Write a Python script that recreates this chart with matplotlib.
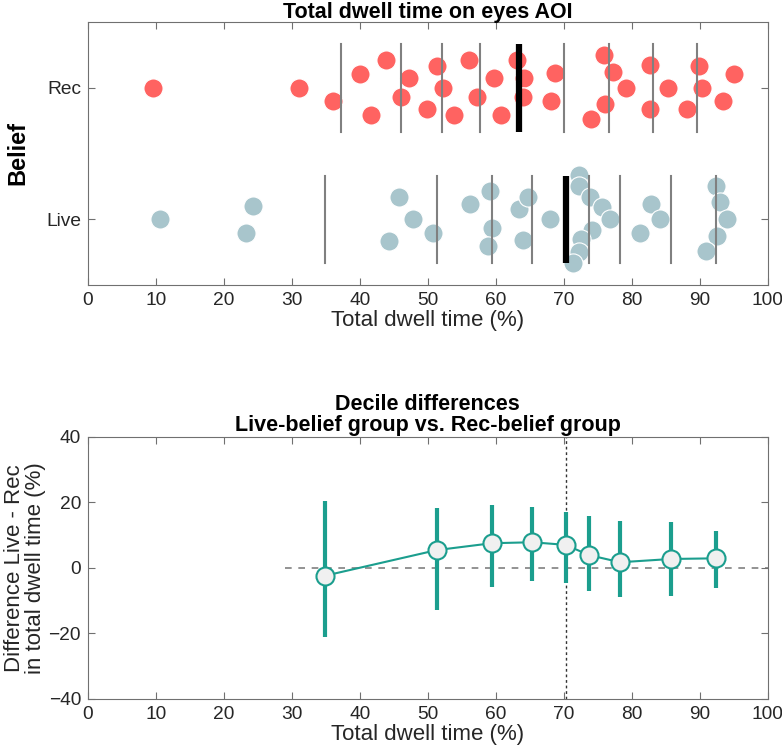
import matplotlib.pyplot as plt

plt.rcParams['font.family'] = ['Liberation Sans', 'DejaVu Sans']

# 数据：每个被试的总注视时间 (%) 与散点的纵向偏移
rec_x = [9.6, 31.1, 36.0, 40.0, 41.6, 43.8, 46.0, 47.3, 49.9, 51.3, 52.2, 53.9,
         56.1, 57.2, 59.7, 60.8, 63.1, 64.1, 64.0, 68.7, 68.1, 74.0, 75.9, 76.1,
         77.3, 79.2, 82.7, 82.7, 85.4, 88.2, 89.9, 90.3, 93.5, 95.1]
rec_off = [0.0, 0.0, -0.104, 0.106, -0.21, 0.212, -0.071, 0.073, -0.164, 0.164, 0.0, -0.21,
           0.212, -0.071, 0.073, -0.21, 0.212, 0.073, -0.071, 0.11, -0.104, -0.24, 0.25, -0.127,
           0.123, 0.0, 0.169, -0.164, 0.0, -0.164, 0.164, 0.0, -0.10, 0.106]

live_x = [10.6, 24.3, 23.3, 45.8, 47.9, 44.3, 50.8, 56.2, 59.1, 59.5, 58.9, 63.4,
          64.7, 64.0, 68.0, 72.2, 72.2, 73.9, 75.6, 76.8, 74.2, 72.5, 72.3, 71.4,
          82.8, 84.2, 81.2, 92.4, 93.0, 94.0, 92.5, 91.0]
live_off = [0.0, 0.103, -0.101, 0.167, 0.0, -0.164, -0.101, 0.114, 0.217, -0.068, -0.207, 0.076,
            0.167, -0.157, 0.0, 0.339, 0.253, 0.167, 0.091, 0.002, -0.081, -0.151, -0.250, -0.333,
            0.114, 0.002, -0.101, 0.253, 0.129, 0.002, -0.124, -0.240]

rec_deciles = [37.3, 46.1, 52.1, 57.7, 63.4, 70.1, 76.7, 83.1, 89.6]
live_deciles = [34.9, 51.3, 59.4, 65.4, 70.3, 73.7, 78.3, 85.8, 92.4]

# 十分位差异及其置信区间
diff = [-2.4, 5.4, 7.5, 7.8, 7.0, 3.9, 1.7, 2.7, 2.9]
ci_low = [-21.0, -12.9, -5.9, -4.1, -4.7, -7.0, -8.8, -8.5, -6.1]
ci_high = [20.4, 18.3, 19.2, 18.4, 17.1, 15.8, 14.4, 13.9, 11.3]

red = '#FF6361'
blue = '#A8C5CC'
teal = '#1B9E8E'
axis_col = '#707070'
txt_col = '#262626'

fig = plt.figure(figsize=(7.82, 7.56), dpi=100)
ax1 = fig.add_axes([0.1125, 0.623, 0.869, 0.348])
ax2 = fig.add_axes([0.1125, 0.0754, 0.869, 0.347])

for ax in (ax1, ax2):
    for s in ax.spines.values():
        s.set_color(axis_col)
        s.set_linewidth(0.8)
    ax.tick_params(direction='in', top=True, right=True, length=5, width=0.8,
                   color=axis_col, labelcolor=txt_col, labelsize=13.8, pad=5)
    ax.set_xlim(0, 100)
    ax.set_xticks(range(0, 101, 10))
    ax.set_xlabel('Total dwell time (%)', fontsize=16, color=txt_col, labelpad=1)

# 上图：散点 + 十分位线
ax1.scatter(rec_x, [2 + o for o in rec_off], s=190, color=red, edgecolor='white',
            linewidth=0.8, zorder=2)
ax1.scatter(live_x, [1 + o for o in live_off], s=190, color=blue, edgecolor='white',
            linewidth=0.8, zorder=2)
for i, d in enumerate(rec_deciles):
    if i == 4:
        ax1.plot([d, d], [2 - 0.333, 2 + 0.333], color='black', lw=4.5, zorder=3, solid_capstyle='butt')
    else:
        ax1.plot([d, d], [2 - 0.333, 2 + 0.333], color='#808080', lw=1.5, zorder=3)
for i, d in enumerate(live_deciles):
    if i == 4:
        ax1.plot([d, d], [1 - 0.33, 1 + 0.33], color='black', lw=4.5, zorder=3, solid_capstyle='butt')
    else:
        ax1.plot([d, d], [1 - 0.33, 1 + 0.33], color='#808080', lw=1.5, zorder=3)

ax1.set_ylim(0.5, 2.5)
ax1.set_yticks([1, 2])
ax1.set_yticklabels(['Live', 'Rec'])
ax1.set_ylabel('Belief', fontsize=17, fontweight='bold', color='black', labelpad=12)
ax1.set_title('Total dwell time on eyes AOI', fontsize=15.5, fontweight='bold', pad=3)

# 下图：十分位差异
ax2.plot([29, 100], [0, 0], color='#808080', lw=1.2, ls=(0, (4, 4)), zorder=1)
ax2.axvline(live_deciles[4], color='#333333', lw=1.0, ls=(0, (2, 2)), zorder=1)
ax2.vlines(live_deciles, ci_low, ci_high, color=teal, lw=3, zorder=2)
ax2.plot(live_deciles, diff, color=teal, lw=1.5, marker='o', markersize=13,
         markerfacecolor='#F0F0F0', markeredgecolor=teal, markeredgewidth=1.5, zorder=3)
ax2.set_ylim(-40, 40)
ax2.set_yticks([-40, -20, 0, 20, 40])
ax2.set_ylabel('Difference Live - Rec\nin total dwell time (%)', fontsize=16,
               color=txt_col, labelpad=2, linespacing=1.0)
ax2.set_title('Decile differences\nLive-belief group vs. Rec-belief group',
              fontsize=15.5, fontweight='bold', pad=4, linespacing=1.0)

fig.savefig('out.png', dpi=100)
